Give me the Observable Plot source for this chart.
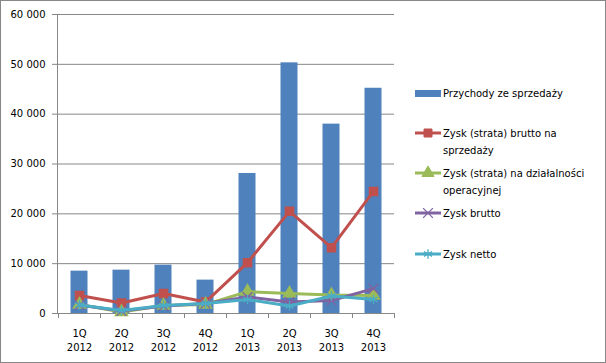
<!DOCTYPE html>
<html>
<head>
<meta charset="utf-8">
<script src="https://cdn.jsdelivr.net/npm/d3@7"></script>
<script src="https://cdn.jsdelivr.net/npm/@observablehq/plot@0.6"></script>
<style>
  body { margin: 0; background: #fff; }
  #chart { position: relative; width: 606px; height: 363px; }
  svg { font-family: "DejaVu Sans", sans-serif; }
</style>
</head>
<body>
<div id="chart"></div>
<script>
const quarters = ["1Q", "2Q", "3Q", "4Q", "1Q", "2Q", "3Q", "4Q"];
const years = ["2012", "2012", "2012", "2012", "2013", "2013", "2013", "2013"];
const przychody = [8500, 8700, 9700, 6700, 28100, 50300, 38000, 45200];
const zyskSprzedaz = [3600, 2100, 4000, 2300, 10200, 20500, 13200, 24500];
const zyskOperacyjny = [1800, 300, 1600, 1800, 4400, 4000, 3700, 3600];
const zyskBrutto = [1700, 500, 1500, 2000, 3300, 2300, 2600, 5000];
const zyskNetto = [1700, 600, 1600, 2000, 2800, 1500, 3500, 2800];
const yTicks = [0, 10000, 20000, 30000, 40000, 50000, 60000];

const seriesNames = [
  "Przychody ze sprzedaży",
  "Zysk (strata) brutto na\nsprzedaży",
  "Zysk (strata) na działalności\noperacyjnej",
  "Zysk brutto",
  "Zysk netto"
];
const colors = ["#4F81BD", "#C0504D", "#9BBB59", "#8064A2", "#4BACC6"];
const symbols = [null, "square", "triangle", "times", "asterisk"];

const cats = quarters.map((q, i) => q + "\n" + years[i]);
const bars = cats.map((c, i) => ({c, v: przychody[i]}));
const lineSeries = [zyskSprzedaz, zyskOperacyjny, zyskBrutto, zyskNetto].map((arr, k) =>
  cats.map((c, i) => ({c, v: arr[i], k: k + 1}))
);

const fmt = d => d3.format(",")(d).replace(/,/g, " ");

const marks = [
  Plot.ruleY(yTicks.filter(d => d > 0), {stroke: "#878787", strokeWidth: 1}),
  Plot.axisY({ticks: yTicks, tickFormat: fmt, tickSize: 5, tickPadding: 7, stroke: "#878787", fill: "#000", fontSize: 10, label: null}),
  Plot.barY(bars, {x: "c", y: "v", fill: colors[0], insetLeft: 12.5, insetRight: 12.5}),
  Plot.axisX({tickSize: 0, tickPadding: 13, fontSize: 10, lineHeight: 1.45, fill: "#000", label: null}),
  Plot.ruleY([0], {stroke: "#878787"})
];
lineSeries.forEach((data, k) => {
  const col = colors[k + 1];
  marks.push(Plot.lineY(data, {x: "c", y: "v", stroke: col, strokeWidth: 3}));
  const sym = symbols[k + 1];
  if (sym === "square" || sym === "triangle") marks.push(Plot.dot(data, {x: "c", y: "v", symbol: sym, fill: col, stroke: col, r: 4.5}));
  else marks.push(Plot.dot(data, {x: "c", y: "v", symbol: sym, stroke: col, strokeWidth: 1.3, r: 4.5}));
});

const plot = Plot.plot({
  width: 606,
  height: 363,
  marginLeft: 57,
  marginRight: 212,
  marginTop: 14,
  marginBottom: 50,
  style: {fontFamily: "DejaVu Sans, sans-serif", fontSize: "10px", background: "#fff", color: "#000"},
  x: {type: "band", domain: cats, padding: 0, axis: null},
  y: {domain: [0, 60000], axis: null},
  marks
});

const svg = d3.select(plot);
const xs = plot.scale("x");
const ys = plot.scale("y");
const bw = xs.bandwidth;
const g = svg.append("g");
// left axis line
g.append("line").attr("x1", 57.5).attr("x2", 57.5).attr("y1", ys.apply(60000)).attr("y2", ys.apply(0)).attr("stroke", "#878787");
// x category boundary ticks
for (let i = 0; i <= cats.length; i++) {
  const x = Math.round(xs.apply(cats[0]) + i * bw) + 0.5;
  g.append("line").attr("x1", x).attr("x2", x).attr("y1", ys.apply(0)).attr("y2", ys.apply(0) + 5).attr("stroke", "#878787");
}
// outer border
svg.append("rect").attr("x", 0.5).attr("y", 0.5).attr("width", 605).attr("height", 362)
  .attr("fill", "none").attr("stroke", "#878787");

// legend
const lg = svg.append("g").attr("font-family", "DejaVu Sans, sans-serif").attr("font-size", 10).attr("text-anchor", "start");
const legendY = [93, 133, 173, 213, 254];
const sx0 = 415, sx1 = 441, tx = 443;
seriesNames.forEach((name, k) => {
  const y = legendY[k];
  const col = colors[k];
  if (k === 0) {
    lg.append("rect").attr("x", sx0).attr("y", y - 3).attr("width", sx1 - sx0).attr("height", 7).attr("fill", col);
  } else {
    lg.append("line").attr("x1", sx0).attr("x2", sx1).attr("y1", y).attr("y2", y).attr("stroke", col).attr("stroke-width", 3);
    const sym = {square: d3.symbolSquare, triangle: d3.symbolTriangle, times: d3.symbolTimes, asterisk: d3.symbolAsterisk}[symbols[k]];
    const filled = symbols[k] === "square" || symbols[k] === "triangle";
    lg.append("path").attr("d", d3.symbol(sym, 64)()).attr("transform", `translate(${(sx0 + sx1) / 2},${y})`)
      .attr("fill", filled ? col : "none").attr("stroke", col).attr("stroke-width", filled ? 1 : 1.3);
  }
  const t = lg.append("text").attr("x", tx).attr("y", y).attr("fill", "#000");
  name.split("\n").forEach((line, j) => {
    t.append("tspan").attr("x", tx).attr("dy", j === 0 ? "0.35em" : "17").text(line);
  });
});

document.getElementById("chart").appendChild(plot);
</script>
</body>
</html>
